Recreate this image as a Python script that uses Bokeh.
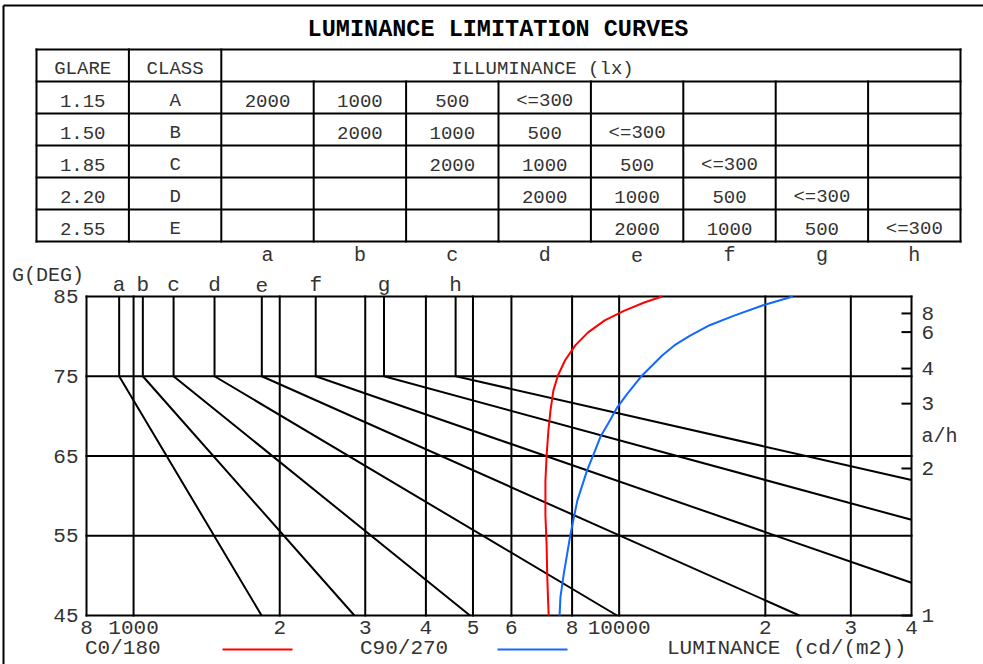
import math
from bokeh.plotting import figure
from bokeh.models import Range1d, LinearScale, LogScale
from bokeh.core.properties import value
from bokeh.embed import file_html
from bokeh.resources import INLINE

# ---------------- data ----------------
TITLE = "LUMINANCE LIMITATION CURVES"
table_header = ["GLARE", "CLASS", "ILLUMINANCE (lx)"]
glare_index = ["1.15", "1.50", "1.85", "2.20", "2.55"]
glare_class = ["A", "B", "C", "D", "E"]
illuminance_rows = [
    ["2000", "1000", "500", "<=300", "", "", "", ""],
    ["", "2000", "1000", "500", "<=300", "", "", ""],
    ["", "", "2000", "1000", "500", "<=300", "", ""],
    ["", "", "", "2000", "1000", "500", "<=300", ""],
    ["", "", "", "", "2000", "1000", "500", "<=300"],
]
curve_letters = ["a", "b", "c", "d", "e", "f", "g", "h"]

# limiting lines a..h : vertical from 85 deg to 75 deg, then straight to the end point
limit_top_deg = 85
limit_knee_deg = 75
limit_lum_at_75 = [934, 1045, 1209, 1468, 1837, 2372, 3279, 4605]
limit_end_lum = [1835, 2850, 4930, 9900, 23500, 40000, 40000, 40000]
limit_end_deg = [45, 45, 45, 45, 45, 49.1, 57.0, 62.0]

# luminance curves of the luminaire (angle in deg, luminance in cd/m2)
c0_deg = [45, 46.9, 50.0, 53.8, 57.5, 61.9, 65.1, 68.2, 70.7, 73.2, 75.1, 77.0, 78.9, 80.5, 82.0, 83.2, 84.25, 85.0]
c0_lum = [7160, 7140, 7110, 7090, 7050, 7050, 7090, 7150, 7220, 7320, 7480, 7740, 8130, 8630, 9340, 10230, 11260, 12260]
c90_deg = [45, 47.3, 50.2, 55.2, 59.4, 63.2, 65.3, 67.4, 69.2, 71.1, 72.8, 75.1, 77.6, 78.9, 80.1, 81.4, 82.6, 83.9, 85.0]
c90_lum = [7540, 7570, 7690, 7940, 8200, 8590, 8870, 9150, 9520, 9910, 10390, 11150, 12260, 13010, 14000, 15360, 17250, 19790, 22780]

lum_ticks = [800, 1000, 2000, 3000, 4000, 5000, 6000, 8000, 10000, 20000, 30000, 40000]
lum_tick_labels = ["8", "1000", "2", "3", "4", "5", "6", "8", "10000", "2", "3", "4"]
deg_ticks = [45, 55, 65, 75, 85]
ah_ticks = [1, 2, 3, 4, 6, 8]
legend_labels = ["C0/180", "C90/270"]
x_title = "LUMINANCE (cd/(m2))"
y_title = "G(DEG)"
r_title = "a/h"

# ---------------- layout (page pixels) ----------------
W, H = 983, 664
PX0, PY0 = 0, 0
BOX_L, BOX_R, BOX_T, BOX_B = 86, 911, 296, 615
LUM_LO, LUM_HI = 800, 40000
DEG_LO, DEG_HI = 45, 85
FONT = "Liberation Mono"
TXT = "#333333"
RED = "#ff0000"
BLUE = "#1268ff"


def lum_at(px):
    return LUM_LO * (LUM_HI / LUM_LO) ** ((px - BOX_L) / (BOX_R - BOX_L))


def deg_at(py):
    return DEG_LO + (DEG_HI - DEG_LO) * (BOX_B - py) / (BOX_B - BOX_T)


p = figure(width=W, height=H, x_axis_type="log",
           x_range=Range1d(lum_at(PX0), lum_at(PX0 + W)),
           y_range=Range1d(deg_at(PY0 + H), deg_at(PY0)),
           x_axis_location=None, y_axis_location=None,
           toolbar_location=None, output_backend="svg", min_border=0)
p.x_scale = LogScale()
p.extra_x_ranges = {"px": Range1d(PX0, PX0 + W)}
p.extra_y_ranges = {"py": Range1d(PY0 + H, PY0)}
p.extra_x_scales = {"px": LinearScale()}
p.extra_y_scales = {"py": LinearScale()}
p.grid.grid_line_color = None
p.outline_line_color = None
p.background_fill_color = "white"
p.border_fill_color = "white"


def txt(x, y, t, size, align="center", baseline="middle", xr="px", yr="py",
        style="normal", color=TXT):
    p.text(x=x, y=y, text=t, x_range_name=xr, y_range_name=yr,
           text_font=value(FONT), text_font_size=value(size), text_align=align,
           text_baseline=baseline, text_font_style=style, text_color=color)


# ---- outer frame ----
p.segment(x0=[3, 3], y0=[5, 5], x1=[W, 3], y1=[5, H],
          x_range_name="px", y_range_name="py", line_color="black", line_width=2)

# ---- title ----
txt([497.5], [29], [TITLE], "23.5px", style="bold", color="black")

# ---- table ----
col_x = [36 + 92.4 * k for k in range(11)]
row_y = [49 + 32 * k for k in range(7)]
p.segment(x0=[col_x[0]] * 7, y0=row_y, x1=[col_x[-1]] * 7, y1=row_y,
          x_range_name="px", y_range_name="py", line_color="black", line_width=2, line_cap="square")
vy0 = [row_y[0] if k in (0, 1, 2, 10) else row_y[1] for k in range(11)]
p.segment(x0=col_x, y0=vy0, x1=col_x, y1=[row_y[-1]] * 11,
          x_range_name="px", y_range_name="py", line_color="black", line_width=2, line_cap="square")

cc = [(col_x[k] + col_x[k + 1]) / 2 for k in range(10)]
txt([cc[0], cc[1], 542], [row_y[0] + 19.5] * 3, table_header, "19px")
tx, ty, tt = [], [], []
for r in range(5):
    mid = row_y[r + 1] + 19.5
    tx += [cc[0], cc[1]]
    ty += [mid, mid]
    tt += [glare_index[r], glare_class[r]]
    for j, s in enumerate(illuminance_rows[r]):
        if s:
            tx.append(cc[2 + j])
            ty.append(mid)
            tt.append(s)
txt(tx, ty, tt, "19px")
txt(cc[2:], [254.5] * 8, curve_letters, "20px")

# ---- axis titles ----
txt([11.5], [274.5], [y_title], "20px", align="left")
txt([921], [436], [r_title], "20px", align="left")

# ---- curve letters above the chart ----
txt(limit_lum_at_75, [284.5] * 8, curve_letters, "21px", xr="default")

# ---- chart grid / frame ----
n = len(lum_ticks)
p.segment(x0=lum_ticks, y0=[DEG_LO] * n, x1=lum_ticks, y1=[DEG_HI] * n,
          line_color="black", line_width=2, line_cap="square")
m = len(deg_ticks)
p.segment(x0=[LUM_LO] * m, y0=deg_ticks, x1=[LUM_HI] * m, y1=deg_ticks,
          line_color="black", line_width=2, line_cap="square")

# ---- limiting lines ----
xs = [[l, l, e] for l, e in zip(limit_lum_at_75, limit_end_lum)]
ys = [[limit_top_deg, limit_knee_deg, d] for d in limit_end_deg]
p.multi_line(xs, ys, line_color="black", line_width=2, line_join="miter")

# ---- luminance curves ----
p.line(c0_lum, c0_deg, line_color=RED, line_width=2, line_join="round")
p.line(c90_lum, c90_deg, line_color=BLUE, line_width=2, line_join="round")

# ---- tick labels ----
txt(lum_ticks, [626.5] * n, lum_tick_labels, "21px", xr="default")
txt([78] * m, deg_ticks, [str(d) for d in deg_ticks], "21px", align="right", yr="default")
ah_deg = [math.degrees(math.atan(r)) for r in ah_ticks]
p.segment(x0=[BOX_R - 10] * len(ah_deg), y0=ah_deg, x1=[BOX_R] * len(ah_deg), y1=ah_deg,
          x_range_name="px", y_range_name="default", line_color="black", line_width=2)
txt([921] * len(ah_deg), ah_deg, [str(r) for r in ah_ticks], "21px", align="left", yr="default")

# ---- legend row ----
txt([84.5, 359.5, 666.5], [648] * 3, legend_labels + [x_title], "21px", align="left")
p.segment(x0=[222, 497], y0=[649, 649], x1=[292, 567], y1=[649, 649],
          x_range_name="px", y_range_name="py", line_color=[RED, BLUE], line_width=2)

open("out.html", "w").write(file_html(p, INLINE))
